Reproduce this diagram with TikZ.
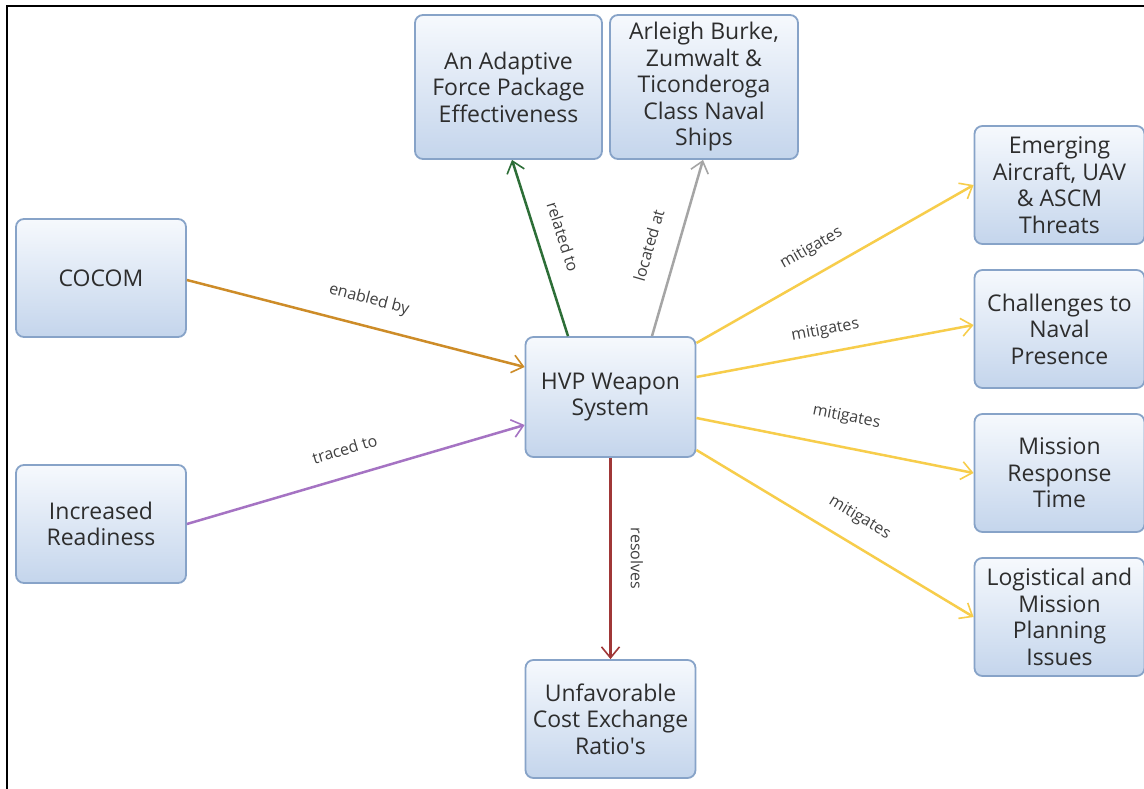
\documentclass[tikz,border=0pt]{standalone}
\usepackage{fontspec}
\setmainfont{Open Sans}
\newfontfamily\qfont{Open Sans}
\usetikzlibrary{arrows.meta}
\definecolor{boxborder}{RGB}{135,163,200}
\definecolor{boxtop}{RGB}{246,249,253}
\definecolor{boxbot}{RGB}{196,213,236}
\definecolor{boxtext}{RGB}{45,45,45}
\definecolor{labtext}{RGB}{65,65,65}
\definecolor{corange}{RGB}{205,140,40}
\definecolor{cpurple}{RGB}{165,115,195}
\definecolor{cgreen}{RGB}{45,110,55}
\definecolor{cgray}{RGB}{165,165,165}
\definecolor{cyellow}{RGB}{247,205,75}
\definecolor{cred}{RGB}{160,55,55}
\tikzset{
  box/.style={draw=boxborder, line width=1.8pt, rounded corners=8pt,
    top color=boxtop, bottom color=boxbot, text=boxtext, align=center,
    font=\fontsize{23}{26.5}\selectfont, inner sep=2pt},
  sbox/.style={box, minimum width=170pt, minimum height=118pt},
  tbox/.style={box, minimum width=187pt, minimum height=144pt},
  link/.style={line width=2.5pt, -{Straight Barb[length=11pt,width=18pt,line width=1.6pt]}},
  lab/.style={font=\fontsize{16}{18}\selectfont, text=labtext, inner sep=0pt, sloped}
}
\begin{document}
\begin{tikzpicture}[x=1pt,y=-1pt]
\useasboundingbox (0,0) rectangle (1144,789);
\fill[white] (0,0) rectangle (1144,789);
\draw[line width=2pt] (7,789) -- (7,5.7) -- (1144,5.7);

\node[sbox] (cocom) at (101,278) {COCOM};
\node[sbox] (ready) at (101,524) {Increased\\Readiness};
\node[sbox, minimum height=120pt] (hvp) at (610.5,397) {HVP Weapon\\System};
\node[tbox] (adapt) at (508.5,87) {An Adaptive\\Force Package\\Effectiveness};
\node[tbox, minimum width=188pt] (burke) at (704,87) {Arleigh Burke,\\Zumwalt \&\\Ticonderoga\\Class Naval\\Ships};
\node[sbox] (emerg) at (1059.5,185) {Emerging\\Aircraft, UAV\\\& ASCM\\Threats};
\node[sbox] (chall) at (1059.5,329) {Challenges to\\Naval\\Presence};
\node[sbox] (miss) at (1059.5,473) {Mission\\Response\\Time};
\node[sbox] (logi) at (1059.5,617) {Logistical and\\Mission\\Planning\\Issues};
\node[sbox] (unfav) at (610.5,719) {Unfavorable\\Cost Exchange\\Ratio{\qfont'}s};

\draw[link, corange] ([yshift=-2pt]cocom.east) -- node[lab, pos=0.52, above=17pt] {enabled by} ([yshift=30pt]hvp.west);
\draw[link, cpurple] (ready.east) -- node[lab, pos=0.49, above=20pt] {traced to} ([yshift=-28pt]hvp.west);
\draw[link, cgreen] ([xshift=-42.5pt]hvp.north) -- node[lab, pos=0.52, above=18pt] {related to} ([xshift=3.5pt]adapt.south);
\draw[link, cgray] ([xshift=41.5pt]hvp.north) -- node[lab, pos=0.47, above=21pt] {located at} ([xshift=-1pt]burke.south);
\draw[link, cyellow] ([yshift=54pt]hvp.east) -- node[lab, pos=0.46, above=16pt] {mitigates} (emerg.west);
\draw[link, cyellow] ([yshift=20pt]hvp.east) -- node[lab, pos=0.48, above=13pt] {mitigates} ([yshift=4pt]chall.west);
\draw[link, cyellow] ([yshift=-21pt]hvp.east) -- node[lab, pos=0.52, above=21pt] {mitigates} (miss.west);
\draw[link, cyellow] ([yshift=-53pt]hvp.east) -- node[lab, pos=0.54, above=17pt] {mitigates} (logi.west);
\draw[link, cred] (hvp.south) -- node[lab, pos=0.5, above=19pt] {resolves} (unfav.north);
\end{tikzpicture}
\end{document}
